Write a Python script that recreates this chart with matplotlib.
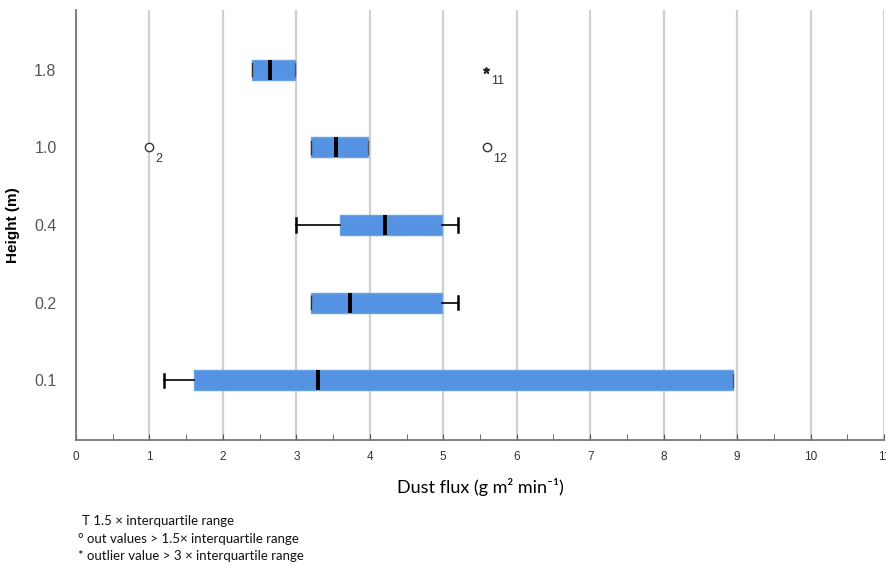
import matplotlib
matplotlib.use("Agg")
import matplotlib.pyplot as plt
from matplotlib.ticker import MultipleLocator

heights = ["0.1", "0.2", "0.4", "1.0", "1.8"]
whislo = [1.2, 3.2, 3.0, 3.2, 2.4]
q1 = [1.6, 3.2, 3.6, 3.2, 2.4]
med = [3.3, 3.73, 4.2, 3.54, 2.64]
q3 = [8.95, 4.98, 4.98, 3.98, 2.98]
whishi = [8.95, 5.2, 5.2, 3.98, 2.98]

# outliers: (category index, value, case label, kind)
out_cat = [3, 3, 4]
out_val = [1.0, 5.6, 5.58]
out_lab = ["2", "12", "11"]
out_kind = ["o", "o", "*"]

xticks = list(range(0, 12))

fig = plt.figure(figsize=(8.87, 5.66), dpi=100)
ax = fig.add_axes([76/887, 1-440/566, 808/887, 430/566])

stats = []
for i in range(len(heights)):
    stats.append(dict(med=med[i], q1=q1[i], q3=q3[i], whislo=whislo[i],
                      whishi=whishi[i], fliers=[], label=heights[i]))

positions = list(range(len(heights)))
res = ax.bxp(stats, positions=positions, vert=False, widths=0.26, patch_artist=True,
             showfliers=False,
             boxprops=dict(facecolor="#5592e2", edgecolor="#6aa0e6", linewidth=1),
             medianprops=dict(color="black", linewidth=2.8, solid_capstyle="butt"),
             whiskerprops=dict(color="black", linewidth=1.2),
             capprops=dict(color="black", linewidth=1.8),
             capwidths=0.17, zorder=3)

# caps that coincide with the box edge look thin and faint in the reference
for i in range(len(heights)):
    lo_cap = res["caps"][2 * i]
    hi_cap = res["caps"][2 * i + 1]
    if whislo[i] == q1[i]:
        lo_cap.set_linewidth(1.0)
        lo_cap.set_color("#333333")
    if whishi[i] == q3[i]:
        hi_cap.set_linewidth(1.0)
        hi_cap.set_color("#555555")

for c, v, lab, k in zip(out_cat, out_val, out_lab, out_kind):
    if k == "o":
        ax.plot(v, c, marker="o", markersize=6, markerfacecolor="white",
                markeredgecolor="#333333", markeredgewidth=1.0, zorder=4)
    else:
        ax.plot(v, c, marker="*", markersize=5, color="#222222", zorder=4)
    ax.annotate(lab, (v, c), xytext=(4, -4), textcoords="offset points",
                fontsize=9, color="#333333", ha="left", va="top",
                family="Liberation Sans")

ax.set_xlim(0, 11)
ax.set_ylim(-0.77, 4.77)
ax.set_xticks(xticks)
ax.xaxis.set_minor_locator(MultipleLocator(0.5))
ax.set_yticks(positions)
ax.set_yticklabels(heights)
ax.grid(axis="x", which="major", color="#d0d0d0", linewidth=1.6, zorder=0)
ax.set_axisbelow(True)

for s in ["top", "right"]:
    ax.spines[s].set_visible(False)
for s in ["left", "bottom"]:
    ax.spines[s].set_color("#777777")
    ax.spines[s].set_linewidth(1.3)

ax.tick_params(axis="x", which="both", direction="in", length=4, color="#555555",
               labelsize=8.5, labelcolor="#333333", pad=8)
ax.tick_params(axis="y", which="both", length=0, labelsize=11.5,
               labelcolor="#555555", pad=14)
for t in ax.get_xticklabels() + ax.get_yticklabels():
    t.set_family("Liberation Sans")

ax.set_ylabel("Height (m)", fontsize=11, fontweight="bold", family="Liberation Sans",
              labelpad=10)
ax.set_xlabel("Dust flux (g m² min⁻¹)", fontsize=13, family="Lato", labelpad=11)

notes = ["T 1.5 × interquartile range",
         "° out values > 1.5× interquartile range",
         "* outlier value > 3 × interquartile range"]
ys = [521, 539, 556]
xs = [82, 78, 78]
for n, y, x in zip(notes, ys, xs):
    fig.text(x/887, 1-y/566, n, fontsize=9.5, family="Lato", va="center", ha="left",
             color="#111111")

fig.savefig("out.png", dpi=100)
